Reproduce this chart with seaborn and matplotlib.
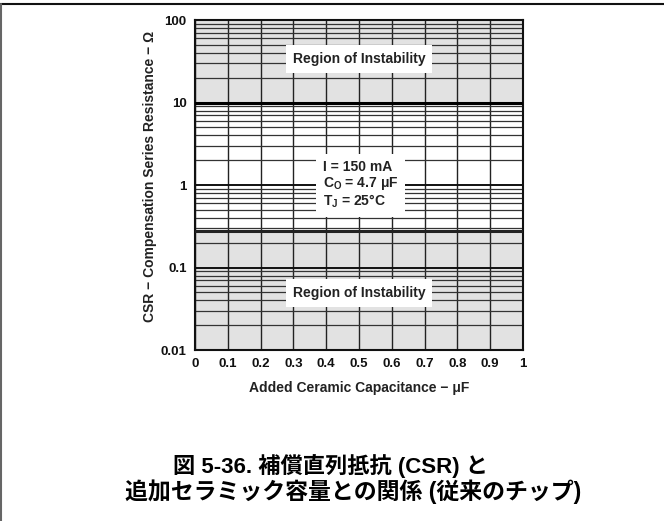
import numpy as np
import matplotlib
matplotlib.use('Agg')
import matplotlib.pyplot as plt
from matplotlib.lines import Line2D
import matplotlib.ticker as mticker
import seaborn as sns

# chart data
cap_x = [0.0, 1.0]
upper_bound = [10.0, 10.0]     # above this -> unstable
lower_bound = [0.28, 0.28]     # below this -> unstable
y_top, y_bot = 100, 0.01
x_ticks = [0, 0.1, 0.2, 0.3, 0.4, 0.5, 0.6, 0.7, 0.8, 0.9, 1]
x_ticklabels = ['0', '0.1', '0.2', '0.3', '0.4', '0.5', '0.6', '0.7', '0.8', '0.9', '1']
y_ticks = [0.01, 0.1, 1, 10, 100]
y_ticklabels = ['0.01', '0.1', '1', '10', '100']

sns.set_style('white')
plt.rcParams['font.family'] = ['Liberation Sans', 'DejaVu Sans']
plt.rcParams['mathtext.fontset'] = 'custom'
plt.rcParams['mathtext.rm'] = 'Liberation Sans:bold'
plt.rcParams['mathtext.it'] = 'Liberation Sans:bold'

fig = plt.figure(figsize=(6.64, 5.21), dpi=100)
ax = fig.add_axes([0.2937, 0.3282, 0.494, 0.6334])

# shaded instability regions
ax.fill_between(cap_x, upper_bound, [y_top, y_top], color='#e2e2e2', zorder=0, lw=0)
ax.fill_between(cap_x, [y_bot, y_bot], lower_bound, color='#e2e2e2', zorder=0, lw=0)

ax.set_yscale('log')
ax.set_xlim(0, 1)
ax.set_ylim(y_bot, y_top)

# grid
ax.set_xticks(x_ticks)
ax.set_xticklabels(x_ticklabels)
ax.set_yticks(y_ticks)
ax.set_yticklabels(y_ticklabels)
ax.yaxis.set_minor_locator(mticker.LogLocator(base=10, subs=np.arange(2, 10)))
ax.yaxis.set_minor_formatter(mticker.NullFormatter())
ax.grid(True, which='major', axis='x', color='#222222', lw=1.0)
ax.grid(True, which='major', axis='y', color='#111111', lw=1.4)
ax.grid(True, which='minor', axis='y', color='#333333', lw=0.9)
ax.set_axisbelow(True)

# boundary lines
sns.lineplot(x=cap_x, y=upper_bound, ax=ax, color='black', lw=2.2, zorder=3)
sns.lineplot(x=cap_x, y=lower_bound, ax=ax, color='#222222', lw=2.2, zorder=3)

for s in ax.spines.values():
    s.set_color('#111111')
    s.set_linewidth(1.5)
ax.tick_params(axis='both', which='both', length=0, labelsize=9.5, pad=6,
               labelcolor='#111111')
for lbl in ax.get_xticklabels() + ax.get_yticklabels():
    lbl.set_fontweight('bold')

box = dict(facecolor='white', edgecolor='none', pad=5)
ax.text(0.5, 34, 'Region of Instability', ha='center', va='center',
        fontsize=10, fontweight='bold', color='#222222', bbox=box, zorder=5)
ax.text(0.5, 0.049, 'Region of Instability', ha='center', va='center',
        fontsize=10, fontweight='bold', color='#222222', bbox=box, zorder=5)
ax.text(0.505, 1.0, 'I = 150 mA\nC$_\\mathrm{O}$ = 4.7 μF\nT$_\\mathrm{J}$ = 25°C',
        ha='center', va='center', multialignment='left', fontsize=10,
        fontweight='bold', color='#222222', linespacing=1.1,
        bbox=dict(facecolor='white', edgecolor='none', pad=5), zorder=5)

ax.set_xlabel('Added Ceramic Capacitance − μF', fontsize=10,
              fontweight='bold', labelpad=8, color='#222222')
ax.set_ylabel('CSR − Compensation Series Resistance − Ω', fontsize=10,
              fontweight='bold', color='#222222')
ax.yaxis.set_label_coords(-0.115, 0.525)

cap_font = ['Liberation Sans', 'Noto Sans CJK JP', 'DejaVu Sans']
fig.text(0.497, 0.105, '図 5-36. 補償直列抵抗 (CSR) と', ha='center', va='center',
         fontsize=16, fontweight='bold', family=cap_font, color='black')
fig.text(0.532, 0.056, '追加セラミック容量との関係 (従来のチップ)', ha='center', va='center',
         fontsize=16.5, fontweight='bold', family=cap_font, color='black')

# page frame
fig.add_artist(Line2D([0, 1], [0.992, 0.992], transform=fig.transFigure,
                      color='#111111', lw=1.5))
fig.add_artist(Line2D([0.001, 0.001], [0, 0.992], transform=fig.transFigure,
                      color='#666666', lw=1.5))

fig.savefig('out.png', dpi=100)
